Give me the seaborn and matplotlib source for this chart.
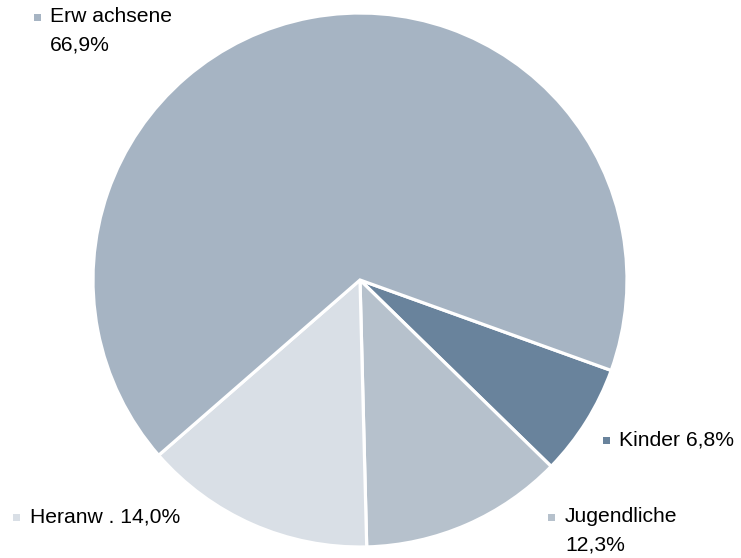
import matplotlib
matplotlib.use("Agg")
import matplotlib.pyplot as plt
from matplotlib.patches import Rectangle
import seaborn as sns

categories = ["Kinder", "Jugendliche", "Heranw .", "Erw achsene"]
values = [6.8, 12.3, 14.0, 66.9]
colors = ["#69839C", "#B6C1CC", "#D9DFE6", "#A6B4C3"]

sns.set_theme(style="white")
plt.rcParams['font.family'] = ['Liberation Sans', 'DejaVu Sans']

W, H = 741, 558
fig = plt.figure(figsize=(W / 100, H / 100), dpi=100)
cx, cy, r = 360, 280, 267
ax = fig.add_axes([(cx - r) / W, (H - cy - r) / H, 2 * r / W, 2 * r / H])
ax.pie(values, colors=colors, startangle=-19.8, counterclock=False, radius=1,
       wedgeprops=dict(edgecolor="white", linewidth=2.3))
ax.set_xlim(-1, 1)
ax.set_ylim(-1, 1)
ax.set_aspect("equal")
ax.axis("off")

def fmt(v):
    return f"{v:.1f}".replace(".", ",") + "%"

# label layout: (marker x, text x, first line y, two-line?)
layout = {
    "Kinder": (606, 619, 440, False),
    "Jugendliche": (551, 565, 517, True),
    "Heranw .": (17, 30, 517, False),
    "Erw achsene": (37, 50, 17, True),
}
fs = 15.2
for name, val, col in zip(categories, values, colors):
    mx, tx, ty, two = layout[name]
    s = 7
    fig.add_artist(Rectangle(((mx - s / 2) / W, (H - ty - s / 2) / H), s / W, s / H,
                             transform=fig.transFigure, facecolor=col, edgecolor="none"))
    if two:
        fig.text(tx / W, (H - ty) / H, name, fontsize=fs, va="center", ha="left", color="black")
        fig.text(tx / W, (H - ty - 28) / H, fmt(val), fontsize=fs, va="center", ha="left", color="black")
    else:
        fig.text(tx / W, (H - ty) / H, f"{name} {fmt(val)}", fontsize=fs, va="center", ha="left", color="black")

fig.savefig("out.png", dpi=100, facecolor="white")
